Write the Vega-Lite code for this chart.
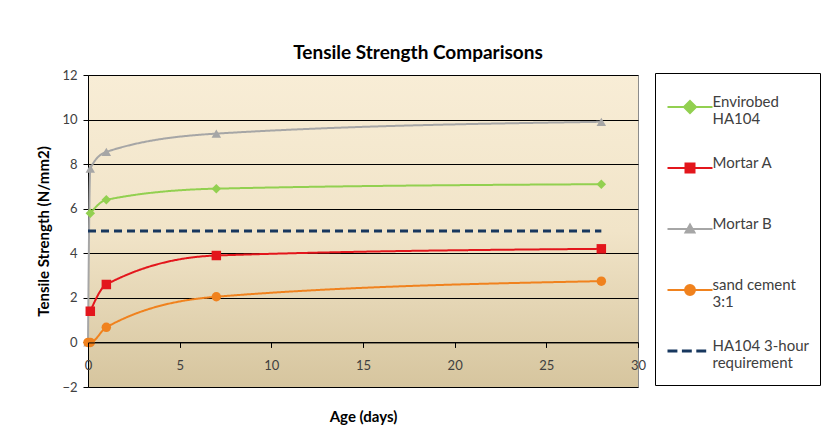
{
  "$schema": "https://vega.github.io/schema/vega-lite/v6.json",
  "autosize": "none",
  "width": 550,
  "height": 312,
  "padding": {"left": 88, "top": 75, "right": 189, "bottom": 56},
  "background": "white",
  "config": {
    "font": "Lato",
    "view": {
      "stroke": "#8c8c8c",
      "strokeWidth": 1,
      "fill": {
        "gradient": "linear",
        "x1": 0, "y1": 0, "x2": 0, "y2": 1,
        "stops": [
          {"offset": 0, "color": "#f8edd6"},
          {"offset": 0.5, "color": "#f1e4c8"},
          {"offset": 1, "color": "#d6c59e"}
        ]
      }
    }
  },
  "title": {
    "text": "Tensile Strength Comparisons",
    "font": "Lato",
    "fontSize": 19,
    "fontWeight": "bold",
    "color": "#000000",
    "anchor": "middle",
    "dx": 55,
    "offset": 6
  },
  "datasets": {
    "strength": [
      {"series": "Envirobed HA104", "age": 0.125, "strength": 5.8},
      {"series": "Envirobed HA104", "age": 1, "strength": 6.4},
      {"series": "Envirobed HA104", "age": 7, "strength": 6.9},
      {"series": "Envirobed HA104", "age": 28, "strength": 7.1},
      {"series": "Mortar A", "age": 0.125, "strength": 1.4},
      {"series": "Mortar A", "age": 1, "strength": 2.6},
      {"series": "Mortar A", "age": 7, "strength": 3.9},
      {"series": "Mortar A", "age": 28, "strength": 4.2},
      {"series": "Mortar B", "age": 0, "strength": 0},
      {"series": "Mortar B", "age": 0.125, "strength": 7.8},
      {"series": "Mortar B", "age": 1, "strength": 8.55},
      {"series": "Mortar B", "age": 7, "strength": 9.37},
      {"series": "Mortar B", "age": 28, "strength": 9.9},
      {"series": "sand cement 3:1", "age": 0, "strength": 0},
      {"series": "sand cement 3:1", "age": 0.125, "strength": 0},
      {"series": "sand cement 3:1", "age": 1, "strength": 0.68},
      {"series": "sand cement 3:1", "age": 7, "strength": 2.05},
      {"series": "sand cement 3:1", "age": 28, "strength": 2.75},
      {"series": "HA104 3-hour requirement", "age": 0, "strength": 5},
      {"series": "HA104 3-hour requirement", "age": 28, "strength": 5}
    ]
  },
  "data": {"name": "strength"},
  "layer": [
    {
      "mark": {"type": "line", "interpolate": "monotone"},
      "encoding": {
        "x": {
          "field": "age", "type": "quantitative",
          "scale": {"domain": [0, 30], "nice": false, "zero": false},
          "axis": {
            "title": "Age (days)",
            "values": [0, 5, 10, 15, 20, 25, 30],
            "offset": -44.57,
            "zindex": 1,
            "grid": false,
            "domainColor": "#000000",
            "tickColor": "#000000",
            "tickSize": 5,
            "labelFont": "Lato",
            "labelFontSize": 13,
            "labelColor": "#404040",
            "labelPadding": 12,
            "labelFlush": false,
            "titleFont": "Lato",
            "titleFontSize": 15,
            "titleFontWeight": "bold",
            "titleColor": "#000000",
            "titlePadding": 37
          }
        },
        "y": {
          "field": "strength", "type": "quantitative",
          "scale": {"domain": [-2, 12], "nice": false, "zero": false},
          "axis": {
            "title": "Tensile Strength (N/mm2)",
            "values": [-2, 0, 2, 4, 6, 8, 10, 12],
            "zindex": 0,
            "grid": true,
            "gridColor": "#000000",
            "gridOpacity": 1,
            "gridWidth": 1,
            "domainColor": "#000000",
            "tickColor": "#000000",
            "tickSize": 5,
            "labelFont": "Lato",
            "labelFontSize": 13,
            "labelColor": "#404040",
            "labelPadding": 6,
            "titleFont": "Lato",
            "titleFontSize": 15,
            "titleFontWeight": "bold",
            "titleColor": "#000000",
            "titlePadding": 10
          }
        },
        "color": {
          "field": "series", "type": "nominal",
          "scale": {
            "domain": ["Envirobed HA104", "Mortar A", "Mortar B", "sand cement 3:1", "HA104 3-hour requirement"],
            "range": ["#92d050", "#e3161c", "#a6a6a6", "#f0821e", "#17375e"]
          },
          "legend": {
            "orient": "none",
            "legendX": 567,
            "legendY": -2,
            "title": null,
            "padding": 10,
            "strokeColor": "#000000",
            "fillColor": "#ffffff",
            "symbolSize": 2025,
            "symbolOffset": 17.5,
            "symbolStrokeWidth": 2,
            "labelFont": "Lato",
            "labelFontSize": 15,
            "labelColor": "#404040",
            "labelOffset": 15,
            "labelLimit": 200,
            "labelBaseline": "top",
            "clipHeight": 48,
            "rowPadding": 13,
            "labelExpr": "datum.label == 'Envirobed HA104' ? ['Envirobed', 'HA104'] : datum.label == 'sand cement 3:1' ? ['sand cement', '3:1'] : datum.label == 'HA104 3-hour requirement' ? ['HA104 3-hour', 'requirement'] : datum.label",
            "encode": {
              "labels": {"update": {"dy": {"value": -12}}},
              "symbols": {
                "update": {
                  "shape": {"signal": "datum.value == 'Envirobed HA104' ? 'M-1,0H1M0,-0.27L0.27,0L0,0.27L-0.27,0Z' : datum.value == 'Mortar A' ? 'M-1,0H1M-0.2,-0.2H0.2V0.2H-0.2Z' : datum.value == 'Mortar B' ? 'M-1,0H1M0,-0.2L0.2,0.15H-0.2Z' : datum.value == 'sand cement 3:1' ? 'M-1,0H1M0.22,0A0.22,0.22,0,1,1,-0.22,0A0.22,0.22,0,1,1,0.22,0Z' : 'M-1,0H-0.56M-0.36,0H0.08M0.28,0H0.72'"},
                  "fill": {"scale": "color", "field": "value"},
                  "stroke": {"scale": "color", "field": "value"},
                  "strokeWidth": {"signal": "datum.value == 'HA104 3-hour requirement' ? 3 : 2"},
                  "dy": {"value": -3},
                  "opacity": {"value": 1},
                  "fillOpacity": {"value": 1}
                }
              }
            }
          }
        },
        "strokeDash": {
          "condition": {"test": "datum.series == 'HA104 3-hour requirement'", "value": [8, 5]},
          "value": [1, 0]
        },
        "strokeWidth": {
          "condition": {"test": "datum.series == 'HA104 3-hour requirement'", "value": 3},
          "value": 2
        }
      }
    },
    {
      "transform": [{"filter": "datum.series != 'HA104 3-hour requirement'"}],
      "mark": {"type": "point", "filled": true, "opacity": 1},
      "encoding": {
        "x": {"field": "age", "type": "quantitative"},
        "y": {"field": "strength", "type": "quantitative"},
        "color": {"field": "series", "type": "nominal"},
        "shape": {
          "field": "series", "type": "nominal",
          "scale": {
            "domain": ["Envirobed HA104", "Mortar A", "Mortar B", "sand cement 3:1"],
            "range": ["diamond", "square", "triangle-up", "circle"]
          },
          "legend": null
        },
        "size": {
          "field": "series", "type": "nominal",
          "scale": {
            "domain": ["Envirobed HA104", "Mortar A", "Mortar B", "sand cement 3:1"],
            "range": [90, 90, 60, 110]
          },
          "legend": null
        }
      }
    }
  ]
}
